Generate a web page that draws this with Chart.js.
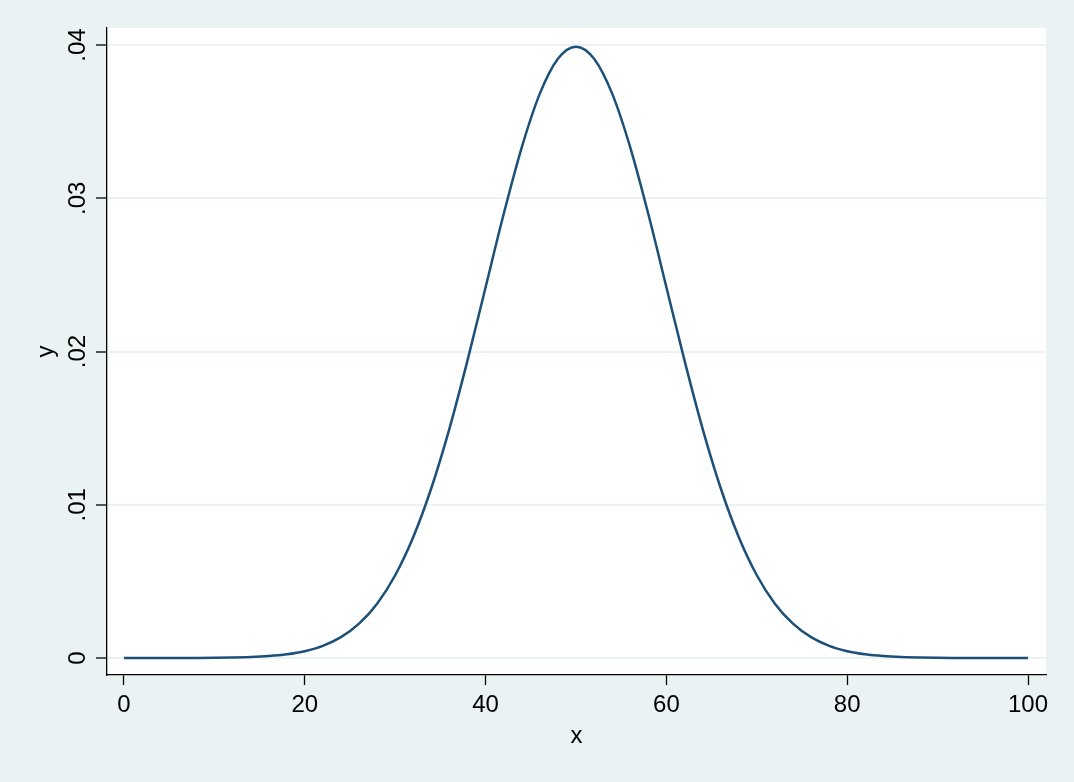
<!DOCTYPE html>
<html>
<head>
<meta charset="utf-8">
<script src="https://cdn.jsdelivr.net/npm/chart.js@4/dist/chart.umd.min.js"></script>
<style>
  html, body { margin: 0; padding: 0; background: #eaf2f3; }
  #wrap { width: 1074px; height: 782px; }
</style>
</head>
<body>
<div id="wrap"><canvas id="grafico" width="1074" height="782"></canvas></div>
<script>
// dados
var xs = [0, 2, 4, 6, 8, 10, 12, 14, 16, 18, 20, 22, 24, 26, 28, 30, 32, 34, 36, 38, 40,
  42, 44, 46, 48, 50, 52, 54, 56, 58, 60, 62, 64, 66, 68, 70, 72, 74, 76, 78, 80,
  82, 84, 86, 88, 90, 92, 94, 96, 98, 100];
var ys = [0.00000015, 0.0000004, 0.000001, 0.0000025, 0.0000059, 0.0000134, 0.0000292, 0.0000612, 0.000123, 0.000238, 0.000443,
  0.000792, 0.001358, 0.002239, 0.003547, 0.005399, 0.007895, 0.011092, 0.014973, 0.019419, 0.024197,
  0.028969, 0.033322, 0.036827, 0.039104, 0.039894, 0.039104, 0.036827, 0.033322, 0.028969, 0.024197,
  0.019419, 0.014973, 0.011092, 0.007895, 0.005399, 0.003547, 0.002239, 0.001358, 0.000792, 0.000443,
  0.000238, 0.000123, 0.0000612, 0.0000292, 0.0000134, 0.0000059, 0.0000025, 0.000001, 0.0000004, 0.00000015];

var xTicks = [0, 20, 40, 60, 80, 100];
var xTickLabels = ["0", "20", "40", "60", "80", "100"];
var yTicks = [0, 0.01, 0.02, 0.03, 0.04];
var yTickLabels = ["0", ".01", ".02", ".03", ".04"];
var xTitle = "x";
var yTitle = "y";

var fonte = '24px "Liberation Sans", Arial, Helvetica, sans-serif';

var pontos = xs.map(function (x, i) { return { x: x, y: ys[i] }; });

// fundo branco da area do grafico + textos
var estiloStata = {
  id: 'estiloStata',
  beforeDraw: function (chart) {
    var a = chart.chartArea;
    var c = chart.ctx;
    c.save();
    c.fillStyle = '#ffffff';
    c.fillRect(a.left, a.top, a.right - a.left, a.bottom - a.top);
    c.restore();
  },
  afterDraw: function (chart) {
    var c = chart.ctx;
    var sx = chart.scales.x;
    var sy = chart.scales.y;
    var a = chart.chartArea;
    c.save();
    c.fillStyle = '#000000';
    c.font = fonte;

    // eixo x
    c.textAlign = 'center';
    c.textBaseline = 'alphabetic';
    xTicks.forEach(function (v, i) {
      c.fillText(xTickLabels[i], sx.getPixelForValue(v), 712);
    });
    c.fillText(xTitle, (a.left + a.right) / 2, 743);

    // eixo y (rotacionado)
    yTicks.forEach(function (v, i) {
      c.save();
      c.translate(85, sy.getPixelForValue(v));
      c.rotate(-Math.PI / 2);
      c.fillText(yTickLabels[i], 0, 0);
      c.restore();
    });
    c.save();
    c.translate(53, (a.top + a.bottom) / 2);
    c.rotate(-Math.PI / 2);
    c.fillText(yTitle, 0, 0);
    c.restore();
    c.restore();
  }
};

var ctx = document.getElementById("grafico");

var myLineChart = new Chart(ctx, {
  type: 'line',
  data: {
    datasets: [
      {
        label: 'y',
        data: pontos,
        borderWidth: 2.5,
        borderColor: '#1c5078',
        backgroundColor: 'transparent',
        pointRadius: 0,
        cubicInterpolationMode: 'monotone'
      }
    ]
  },
  options: {
    responsive: false,
    animation: false,
    layout: { padding: { top: 28, right: 28, left: 0, bottom: 0 } },
    plugins: {
      legend: { display: false },
      tooltip: { enabled: false }
    },
    scales: {
      x: {
        type: 'linear',
        min: -1.88,
        max: 101.99,
        afterBuildTicks: function (scale) {
          scale.ticks = xTicks.map(function (v) { return { value: v }; });
        },
        afterFit: function (scale) { scale.height = 107; },
        ticks: { display: false },
        grid: {
          drawOnChartArea: false,
          tickLength: 10,
          tickColor: '#000000',
          tickWidth: 1.3
        },
        border: { color: '#000000', width: 1.3 }
      },
      y: {
        type: 'linear',
        min: -0.00111,
        max: 0.04111,
        afterBuildTicks: function (scale) {
          scale.ticks = yTicks.map(function (v) { return { value: v }; });
        },
        afterFit: function (scale) { scale.width = 107; },
        ticks: { display: false },
        grid: {
          color: '#eaf2f3',
          lineWidth: 2,
          tickLength: 11,
          tickColor: '#000000',
          tickWidth: 1.3
        },
        border: { color: '#000000', width: 1.3 }
      }
    }
  },
  plugins: [estiloStata]
});
</script>
</body>
</html>
